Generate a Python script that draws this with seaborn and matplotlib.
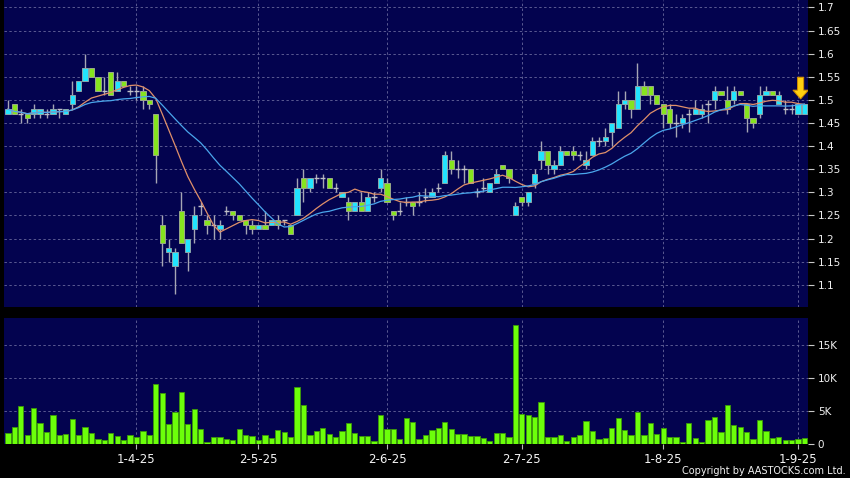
import numpy as np
import pandas as pd
import matplotlib
matplotlib.use("Agg")
import matplotlib.pyplot as plt
import seaborn as sns
from matplotlib.patches import FancyArrow

# ---------------- data ----------------
open_ = [1.47, 1.49, 1.47, 1.47, 1.47, 1.47, 1.47, 1.47, 1.48, 1.47,
         1.49, 1.52, 1.54, 1.57, 1.55, 1.52, 1.56, 1.52, 1.54, 1.52,
         1.52, 1.52, 1.50, 1.47, 1.23, 1.17, 1.14, 1.26, 1.17, 1.22,
         1.27, 1.24, 1.23, 1.22, 1.26, 1.26, 1.25, 1.24, 1.23, 1.22,
         1.23, 1.23, 1.24, 1.24, 1.23, 1.25, 1.33, 1.31, 1.33, 1.33,
         1.33, 1.31, 1.29, 1.28, 1.26, 1.28, 1.26, 1.29, 1.31, 1.32,
         1.26, 1.26, 1.28, 1.28, 1.28, 1.29, 1.29, 1.31, 1.32, 1.37,
         1.35, 1.35, 1.35, 1.30, 1.31, 1.30, 1.32, 1.36, 1.35, 1.25,
         1.29, 1.28, 1.32, 1.37, 1.39, 1.35, 1.36, 1.39, 1.39, 1.38,
         1.36, 1.38, 1.41, 1.41, 1.43, 1.44, 1.49, 1.50, 1.48, 1.53,
         1.53, 1.51, 1.49, 1.48, 1.45, 1.45, 1.47, 1.47, 1.47, 1.49,
         1.50, 1.52, 1.50, 1.50, 1.52, 1.49, 1.46, 1.47, 1.51, 1.52,
         1.49, 1.48, 1.48, 1.47, 1.47]
high = [1.50, 1.49, 1.48, 1.47, 1.49, 1.48, 1.48, 1.49, 1.48, 1.48,
        1.54, 1.54, 1.60, 1.57, 1.55, 1.55, 1.56, 1.56, 1.54, 1.53,
        1.53, 1.53, 1.50, 1.47, 1.25, 1.20, 1.18, 1.30, 1.20, 1.27,
        1.28, 1.25, 1.25, 1.24, 1.27, 1.26, 1.25, 1.24, 1.24, 1.23,
        1.26, 1.24, 1.25, 1.24, 1.23, 1.33, 1.35, 1.33, 1.34, 1.34,
        1.33, 1.32, 1.30, 1.29, 1.28, 1.30, 1.30, 1.30, 1.35, 1.33,
        1.26, 1.28, 1.29, 1.28, 1.30, 1.31, 1.31, 1.32, 1.39, 1.39,
        1.37, 1.36, 1.35, 1.31, 1.33, 1.32, 1.35, 1.36, 1.35, 1.28,
        1.29, 1.30, 1.35, 1.41, 1.39, 1.37, 1.40, 1.39, 1.40, 1.39,
        1.39, 1.42, 1.42, 1.44, 1.45, 1.52, 1.52, 1.50, 1.58, 1.54,
        1.53, 1.51, 1.49, 1.49, 1.47, 1.47, 1.48, 1.50, 1.49, 1.50,
        1.53, 1.52, 1.53, 1.53, 1.52, 1.49, 1.46, 1.53, 1.53, 1.52,
        1.52, 1.50, 1.49, 1.49, 1.49]
low = [1.47, 1.47, 1.45, 1.45, 1.46, 1.46, 1.46, 1.47, 1.46, 1.47,
       1.48, 1.52, 1.54, 1.55, 1.52, 1.51, 1.51, 1.52, 1.53, 1.51,
       1.50, 1.48, 1.48, 1.32, 1.14, 1.15, 1.08, 1.19, 1.13, 1.19,
       1.25, 1.21, 1.20, 1.20, 1.25, 1.24, 1.24, 1.21, 1.21, 1.22,
       1.22, 1.23, 1.22, 1.23, 1.21, 1.25, 1.28, 1.30, 1.32, 1.31,
       1.31, 1.30, 1.29, 1.24, 1.26, 1.26, 1.26, 1.28, 1.30, 1.28,
       1.24, 1.25, 1.27, 1.25, 1.27, 1.28, 1.29, 1.30, 1.32, 1.34,
       1.33, 1.32, 1.32, 1.29, 1.30, 1.30, 1.32, 1.35, 1.32, 1.25,
       1.27, 1.27, 1.31, 1.35, 1.34, 1.34, 1.36, 1.38, 1.37, 1.37,
       1.35, 1.38, 1.40, 1.40, 1.40, 1.44, 1.48, 1.46, 1.48, 1.51,
       1.49, 1.49, 1.44, 1.44, 1.42, 1.44, 1.43, 1.47, 1.46, 1.45,
       1.48, 1.51, 1.47, 1.49, 1.51, 1.43, 1.44, 1.46, 1.51, 1.51,
       1.49, 1.47, 1.47, 1.47, 1.47]
close = [1.48, 1.47, 1.47, 1.46, 1.48, 1.48, 1.47, 1.48, 1.48, 1.48,
         1.51, 1.54, 1.57, 1.55, 1.52, 1.52, 1.51, 1.54, 1.53, 1.52,
         1.52, 1.50, 1.49, 1.38, 1.19, 1.18, 1.17, 1.19, 1.20, 1.25,
         1.27, 1.23, 1.23, 1.23, 1.26, 1.25, 1.24, 1.23, 1.22, 1.23,
         1.22, 1.24, 1.23, 1.24, 1.21, 1.31, 1.31, 1.33, 1.33, 1.33,
         1.31, 1.31, 1.30, 1.26, 1.28, 1.26, 1.29, 1.29, 1.33, 1.28,
         1.25, 1.26, 1.28, 1.27, 1.28, 1.29, 1.30, 1.31, 1.38, 1.35,
         1.35, 1.35, 1.32, 1.30, 1.31, 1.32, 1.34, 1.35, 1.33, 1.27,
         1.28, 1.30, 1.34, 1.39, 1.36, 1.36, 1.39, 1.38, 1.38, 1.38,
         1.37, 1.41, 1.41, 1.42, 1.45, 1.49, 1.50, 1.48, 1.53, 1.51,
         1.51, 1.49, 1.47, 1.45, 1.45, 1.46, 1.47, 1.48, 1.48, 1.49,
         1.52, 1.51, 1.48, 1.52, 1.51, 1.46, 1.45, 1.51, 1.52, 1.51,
         1.51, 1.48, 1.48, 1.49, 1.49]
volume_k = [1.7, 2.5, 5.8, 1.3, 5.5, 3.1, 1.8, 4.4, 1.3, 1.5,
            3.7, 1.4, 2.6, 1.7, 0.7, 0.6, 1.6, 1.2, 0.6, 1.3,
            1.1, 2.0, 1.3, 9.1, 7.7, 3.0, 4.8, 7.9, 3.0, 5.3,
            2.2, 0.3, 1.0, 1.0, 0.8, 0.6, 2.2, 1.3, 1.2, 0.6,
            1.3, 0.9, 2.1, 1.8, 1.0, 8.6, 5.9, 1.4, 1.9, 2.4,
            1.5, 1.1, 1.9, 3.2, 1.7, 1.2, 1.2, 0.4, 4.3, 2.2,
            2.3, 0.8, 3.9, 3.3, 0.8, 1.4, 2.1, 2.4, 3.3, 2.3,
            1.5, 1.5, 1.2, 1.2, 0.9, 0.5, 1.6, 1.7, 1.0, 17.9,
            4.5, 4.4, 4.1, 6.4, 1.0, 1.1, 1.3, 0.5, 1.0, 1.3,
            3.5, 2.0, 0.8, 0.9, 2.4, 3.9, 2.1, 1.4, 4.9, 1.4,
            3.2, 1.5, 2.4, 1.0, 1.1, 0.3, 3.2, 0.9, 0.3, 3.6,
            4.0, 1.8, 5.9, 2.9, 2.6, 1.8, 0.7, 3.6, 2.0, 0.9,
            1.1, 0.6, 0.6, 0.8, 0.9]

hk_holidays = ['2025-04-04', '2025-04-18', '2025-04-21', '2025-05-01',
               '2025-05-05', '2025-07-01']
tick_dates = ['2025-04-01', '2025-05-02', '2025-06-02', '2025-07-02',
              '2025-08-01', '2025-09-01']
tick_labels = ['1-4-25', '2-5-25', '2-6-25', '2-7-25', '1-8-25', '1-9-25']
price_ticks = [1.1, 1.15, 1.2, 1.25, 1.3, 1.35, 1.4, 1.45, 1.5, 1.55, 1.6, 1.65, 1.7]
vol_ticks = [0, 5, 10, 15]
vol_tick_labels = ['0', '5K', '10K', '15K']

# ---------------- frame ----------------
dates = pd.bdate_range('2025-03-04', '2025-09-02')
dates = dates[~dates.isin(pd.to_datetime(hk_holidays))]
n = len(close)
dates = dates[:n]
tick_pos = [int(dates.get_indexer([pd.Timestamp(d)])[0]) for d in tick_dates]

df = pd.DataFrame({'x': np.arange(n), 'open': open_, 'high': high,
                   'low': low, 'close': close, 'vol': volume_k})
df['ma10'] = df['close'].rolling(10, min_periods=1).mean()
df['ma20'] = df['close'].rolling(20, min_periods=1).mean()

NAVY = '#03034f'
GRID = '#5a5a92'
CYAN = '#22e4ff'
GREEN = '#86e41e'
VOLG = '#6cff0a'

W, H = 850, 478
fig = plt.figure(figsize=(W / 100, H / 100), dpi=100, facecolor='black')
ax = fig.add_axes([4 / W, 1 - 307 / H, (808 - 4) / W, 307 / H])
axv = fig.add_axes([4 / W, 1 - 444 / H, (808 - 4) / W, (444 - 318) / H])

for a in (ax, axv):
    a.set_facecolor(NAVY)
    for s in a.spines.values():
        s.set_visible(False)

# ---------------- candles ----------------
x = df['x'].to_numpy()
o = df['open'].to_numpy()
c = df['close'].to_numpy()
hi = df['high'].to_numpy()
lo = df['low'].to_numpy()
up = c > o + 1e-9
dn = c < o - 1e-9
flat = ~(up | dn)
bw = 0.82

ax.vlines(x, lo, hi, color='#a6a6b4', lw=1.0, zorder=2)
ax.bar(x[up], (c - o)[up], bottom=o[up], width=bw, color=CYAN,
       edgecolor='#8aa6aa', lw=0.7, zorder=3)
ax.bar(x[dn], (o - c)[dn], bottom=c[dn], width=bw, color=GREEN,
       edgecolor='#9aa88a', lw=0.7, zorder=3)
ax.hlines(c[flat], x[flat] - bw / 2, x[flat] + bw / 2, color='#c0c0c8',
          lw=1.0, zorder=3)

sns.lineplot(data=df, x='x', y='ma10', color='#e0906a', lw=0.9, ax=ax, zorder=4)
sns.lineplot(data=df, x='x', y='ma20', color='#4aa6ec', lw=0.9, ax=ax, zorder=4)

# latest-price arrow
ax.add_patch(FancyArrow(n - 1.6, 1.549, 0, -0.047, width=0.95, head_width=2.4,
                        head_length=0.019, length_includes_head=True,
                        fc='#ffcf10', ec='#d08a00', lw=0.7, zorder=6))

# ---------------- volume ----------------
sns.barplot(data=df, x='x', y='vol', native_scale=True, color=VOLG,
            edgecolor='#3c9a08', linewidth=0.6, saturation=1, width=0.82,
            errorbar=None, ax=axv, zorder=3)

# ---------------- axes styling ----------------
xlim = (-0.62, n - 0.45)
for a in (ax, axv):
    a.set_xlim(*xlim)
    a.set_xticks(tick_pos)
    a.set_axisbelow(True)
    a.grid(True, color=GRID, linestyle=(0, (2.5, 2.5)), lw=0.7)
    a.set_xlabel('')
    a.set_ylabel('')
    a.yaxis.tick_right()

ax.set_ylim(1.052, 1.716)
ax.set_yticks(price_ticks)
ax.set_yticklabels([f'{t:g}' for t in price_ticks])
ax.tick_params(axis='x', length=0, labelbottom=False)
ax.tick_params(axis='y', direction='out', length=4, width=0.8, color='#c8c8c8',
               pad=3, labelsize=7.5, labelcolor='#f0f0f0')

axv.set_ylim(0, 19.0)
axv.set_yticks(vol_ticks)
axv.set_yticklabels(vol_tick_labels)
axv.set_xticklabels(tick_labels)
axv.tick_params(axis='y', direction='out', length=4, width=0.8, color='#c8c8c8',
                pad=3, labelsize=7.5, labelcolor='#f0f0f0')
axv.tick_params(axis='x', direction='out', length=3.5, width=0.8, color='#b8b8b8',
                pad=3, labelsize=8.5, labelcolor='#f4f4f4')
# grid lines only on the K levels above zero
axv.yaxis.get_gridlines()[0].set_visible(False)

fig.text(846 / W, 1 - 476 / H, 'Copyright by AASTOCKS.com Ltd.', ha='right',
         va='bottom', color='#f0f0f0', fontsize=7)

fig.savefig('out.png', dpi=100, facecolor='black')
